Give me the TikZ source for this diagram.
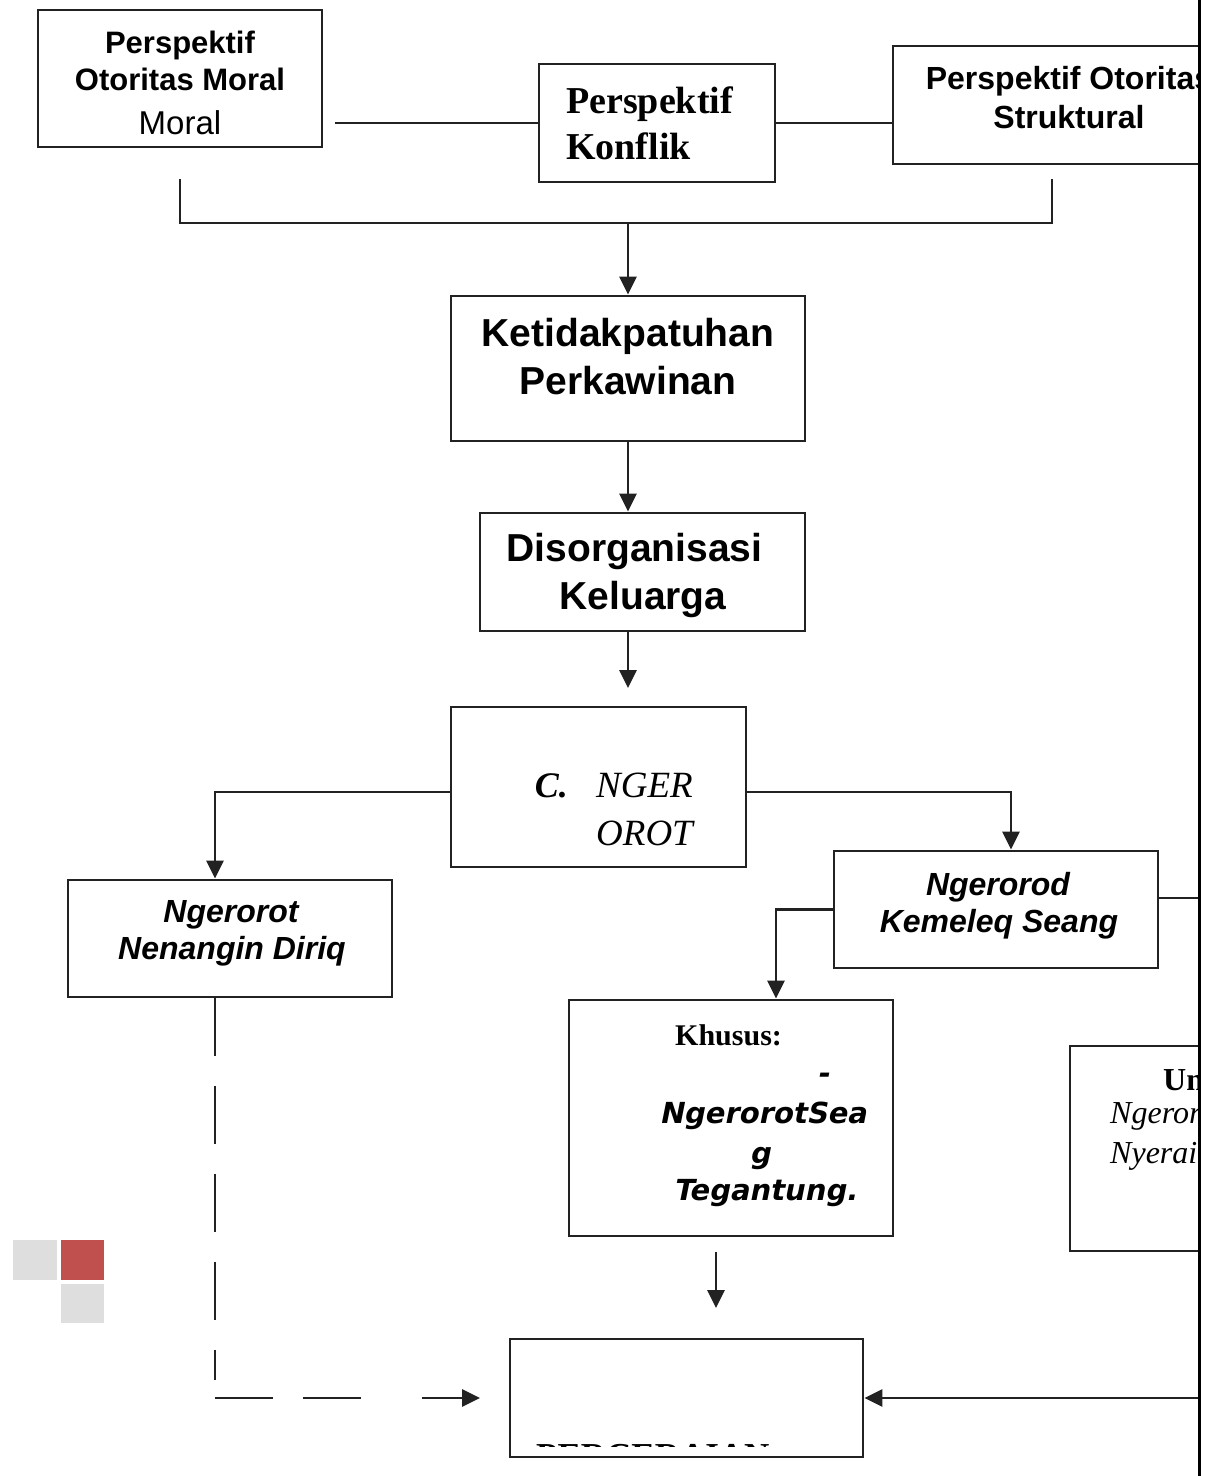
\documentclass[tikz,border=0pt]{standalone}
\usepackage{fontspec}
\setmainfont{Liberation Serif}
\setsansfont{Liberation Sans}
\newfontfamily\dvsbi{DejaVu Sans Bold}[FakeSlant=0.2]
\usetikzlibrary{arrows.meta,calc}
\definecolor{lc}{HTML}{222222}
\definecolor{sqgray}{HTML}{DEDEDE}
\definecolor{sqred}{HTML}{C0504D}
\newcommand\fsb[1]{\sffamily\bfseries\fontsize{#1}{#1}\selectfont}
\newcommand\fsr[1]{\sffamily\fontsize{#1}{#1}\selectfont}
\newcommand\frb[1]{\rmfamily\bfseries\fontsize{#1}{#1}\selectfont}
\newcommand\fri[1]{\rmfamily\itshape\fontsize{#1}{#1}\selectfont}
\newcommand\fsbi[1]{\sffamily\bfseries\itshape\fontsize{#1}{#1}\selectfont}
\newcommand\fdv[1]{\dvsbi\fontsize{#1}{#1}\selectfont}
\tikzset{
  box/.style={draw=lc, line width=2.8pt, rectangle, inner sep=0pt},
  conn/.style={draw=lc, line width=2.8pt},
  arr/.style={conn, -{Triangle[length=18pt,width=17pt]}},
  dconn/.style={conn, dash pattern=on 58pt off 30pt},
  tx/.style={inner sep=0pt, anchor=base},
  txl/.style={inner sep=0pt, anchor=base west},
  txr/.style={inner sep=0pt, anchor=base east},
}
\begin{document}
\begin{tikzpicture}[x=1pt,y=-1pt]
\useasboundingbox (0,0) rectangle (1215,1476);
\fill[white] (0,0) rectangle (1215,1476);
\begin{scope}
\clip (0,0) rectangle (1198,1476);
% boxes
\node[box, minimum width=284pt, minimum height=137pt] (A) at (180,78.5) {};
\node[box, minimum width=236pt, minimum height=118pt] (B) at (657,123) {};
\node[box, minimum width=352pt, minimum height=118pt] (C) at (1069,105) {};
\node[box, minimum width=354pt, minimum height=145pt] (D) at (628,368.5) {};
\node[box, minimum width=325pt, minimum height=118pt] (E) at (642.5,572) {};
\node[box, minimum width=295pt, minimum height=160pt] (F) at (598.5,787) {};
\node[box, minimum width=324pt, minimum height=117pt] (G) at (230,938.5) {};
\node[box, minimum width=324pt, minimum height=117pt] (H) at (996,909.5) {};
\node[box, minimum width=324pt, minimum height=236pt] (I) at (731,1118) {};
\node[box, minimum width=190pt, minimum height=205pt] (J) at (1165,1148.5) {};
\node[box, minimum width=353pt, minimum height=118pt] (K) at (686.5,1398) {};
% texts
\node[tx] (a1) at (180,53) {\fsb{31}Perspektif};
\node[tx] (a2) at (180,90) {\fsb{31}Otoritas Moral};
\node[tx] (a3) at (180,134) {\fsr{33}Moral};
\node[txl] (b1) at (566,113) {\frb{38}Perspektif};
\node[txl] (b2) at (566,159) {\frb{38}Konflik};
\node[tx] (c1) at (1069,89) {\fsb{32}Perspektif Otoritas};
\node[tx] (c2) at (1069,128) {\fsb{32}Struktural};
\node[tx] (d1) at (628,346) {\fsb{39}Ketidakpatuhan};
\node[tx] (d2) at (628,394) {\fsb{39}Perkawinan};
\node[tx] (e1) at (634.5,561) {\fsb{39}Disorganisasi};
\node[tx] (e2) at (643,609) {\fsb{39}Keluarga};
\node[txr] (f0) at (568,797) {\rmfamily\bfseries\itshape\fontsize{36}{36}\selectfont C.};
\node[txl] (f1) at (596,797) {\fri{37}NGER};
\node[txl] (f2) at (596,845) {\fri{37}OROT};
\node[tx] (g1) at (231,922) {\fsbi{32}Ngerorot};
\node[tx] (g2) at (232,959) {\fsbi{32}Nenangin Diriq};
\node[tx] (h1) at (998,895) {\fsbi{32}Ngerorod};
\node[tx] (h2) at (999,932) {\fsbi{32}Kemeleq Seang};
\node[txl] (i0) at (675,1045) {\frb{30}Khusus:};
\node[txr] (i1) at (829,1083) {\fdv{29}-};
\node[tx] (i2) at (763,1123) {\fdv{29}NgerorotSea};
\node[tx] (i3) at (760,1163) {\fdv{29}g};
\node[tx] (i4) at (765,1200) {\fdv{29}Tegantung.};
\node[txl] (j1) at (1163,1090) {\frb{32}Umum:};
\node[txl] (j2) at (1110,1123) {\fri{32}Ngerorot};
\node[txl] (j3) at (1110,1163) {\fri{32}Nyerai};
\begin{scope}
\clip (512,1341) rectangle (861,1446);
\node[txl] (k1) at (536,1467) {\frb{35}PERCERAIAN};
\end{scope}
% connectors
\draw[conn, shorten <=12pt] (B.west -| A.east) -- (B.west);
\draw[conn] (B.east) -- (B.east -| C.west);
\coordinate (bl) at (180,179);
\coordinate (br) at (1052,179);
\coordinate (bm) at (628,223);
\draw[conn] (bl) |- (bm) -| (br);
\draw[arr] (bm) -- (D.north);
\draw[arr] (D.south) -- (D.south |- E.north);
\coordinate (etip) at (628,688);
\draw[arr] (D.south |- E.south) -- (etip);
\draw[arr] ([yshift=-5pt]F.west) -| ([xshift=-15pt]G.north);
\draw[arr] ([yshift=-5pt]F.east) -| ([xshift=15pt]H.north);
\draw[arr] (H.west) -| ([xshift=45pt]I.north);
\coordinate (hr) at (1198,898);
\draw[conn] ([yshift=11.5pt]H.east) -- (hr);
\coordinate (is) at (716,1252);
\coordinate (it) at (716,1308);
\draw[arr] (is) -- (it);
\coordinate (kr) at (1198,1398);
\draw[arr] (kr) -- (K.east);
% dashed path
\coordinate (dv) at (215,1380);
\coordinate (dh1) at (215,1398);
\coordinate (dh2) at (363,1398);
\coordinate (da1) at (422,1398);
\coordinate (da2) at (480,1398);
\draw[dconn] ([xshift=-15pt]G.south) -- (dv);
\draw[dconn] (dh1) -- (dh2);
\draw[arr] (da1) -- (da2);
\end{scope}
% right edge
\draw[black, line width=3pt] (1199.5,0) -- (1199.5,1476);
% squares
\fill[sqgray] (13,1240) rectangle (57,1280);
\fill[sqred] (61,1240) rectangle (104,1280);
\fill[sqgray] (61,1284) rectangle (104,1323);
\end{tikzpicture}
\end{document}
